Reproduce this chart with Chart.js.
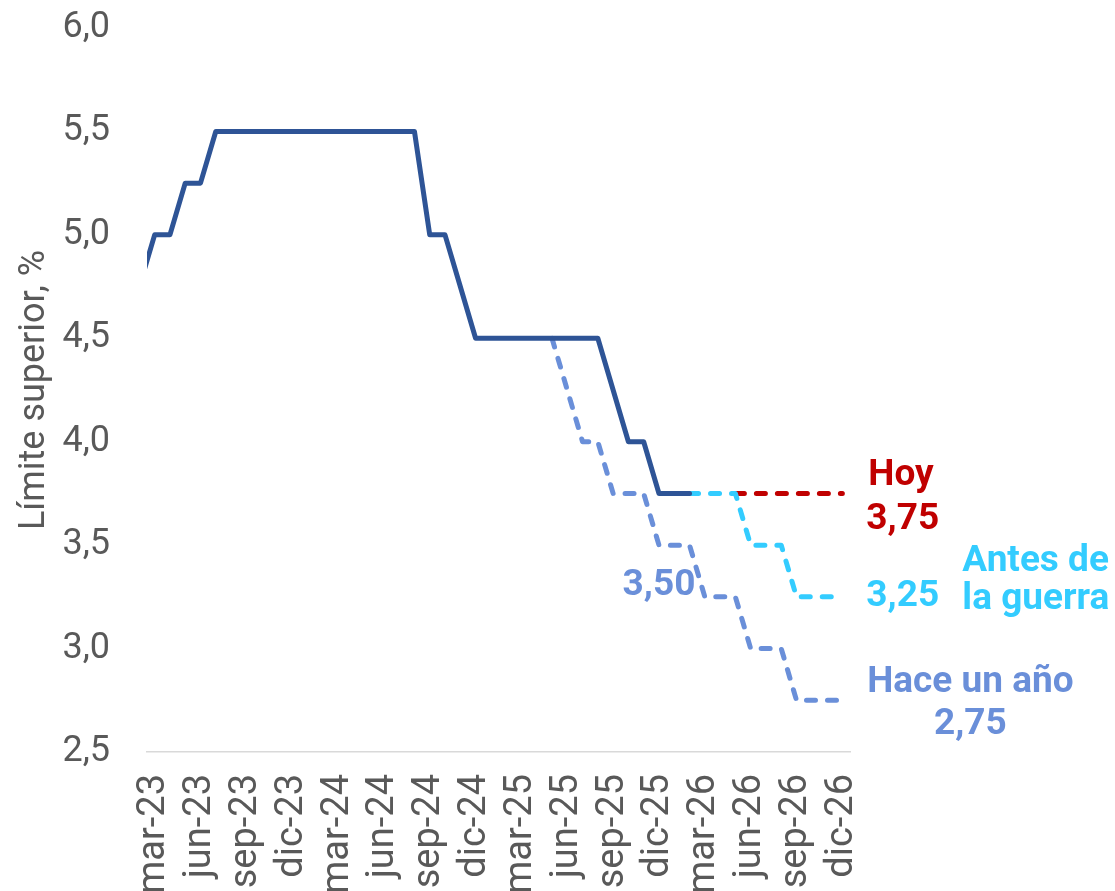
<!DOCTYPE html>
<html lang="es">
<head>
<meta charset="utf-8">
<title>Límite superior</title>
<script src="https://cdn.jsdelivr.net/npm/chart.js@4.4.1/dist/chart.umd.min.js"></script>
<style>
  html, body { margin: 0; padding: 0; background: #fff; overflow: hidden; }
  canvas { display: block; }
</style>
</head>
<body>
<canvas id="grafico" width="1115" height="891"></canvas>
<script>
// meses (el primero queda medio fuera del eje)
const meses = ['feb-23','mar-23','abr-23','may-23','jun-23','jul-23','ago-23','sep-23','oct-23','nov-23','dic-23',
  'ene-24','feb-24','mar-24','abr-24','may-24','jun-24','jul-24','ago-24','sep-24','oct-24','nov-24','dic-24',
  'ene-25','feb-25','mar-25','abr-25','may-25','jun-25','jul-25','ago-25','sep-25','oct-25','nov-25','dic-25',
  'ene-26','feb-26','mar-26','abr-26','may-26','jun-26','jul-26','ago-26','sep-26','oct-26','nov-26','dic-26'];

const etiquetasX = ['mar-23','jun-23','sep-23','dic-23','mar-24','jun-24','sep-24','dic-24',
  'mar-25','jun-25','sep-25','dic-25','mar-26','jun-26','sep-26','dic-26'];

const ticksY = [2.5, 3.0, 3.5, 4.0, 4.5, 5.0, 5.5, 6.0];

// tasa efectiva (límite superior)
const historico = [4.75, 5.00, 5.00, 5.25, 5.25, 5.50, 5.50, 5.50, 5.50, 5.50, 5.50,
  5.50, 5.50, 5.50, 5.50, 5.50, 5.50, 5.50, 5.50, 5.00, 5.00, 4.75, 4.50,
  4.50, 4.50, 4.50, 4.50, 4.50, 4.50, 4.50, 4.50, 4.25, 4.00, 4.00, 3.75,
  3.75, 3.75, null, null, null, null, null, null, null, null, null, null];

// expectativas
const hoy = [null, null, null, null, null, null, null, null, null, null, null,
  null, null, null, null, null, null, null, null, null, null, null, null,
  null, null, null, null, null, null, null, null, null, null, null, null,
  null, null, null, null, 3.75, 3.75, 3.75, 3.75, 3.75, 3.75, 3.75, 3.75];

const antesGuerra = [null, null, null, null, null, null, null, null, null, null, null,
  null, null, null, null, null, null, null, null, null, null, null, null,
  null, null, null, null, null, null, null, null, null, null, null, null,
  null, 3.75, 3.75, 3.75, 3.75, 3.50, 3.50, 3.50, 3.25, 3.25, 3.25, 3.25];

const haceUnAno = [null, null, null, null, null, null, null, null, null, null, null,
  null, null, null, null, null, null, null, null, null, null, null, null,
  null, null, null, null, 4.50, 4.25, 4.00, 4.00, 3.75, 3.75, 3.75, 3.50,
  3.50, 3.50, 3.25, 3.25, 3.25, 3.00, 3.00, 3.00, 2.75, 2.75, 2.75, 2.75];

const rojo = '#C00000';
const celeste = '#33CCFF';
const azulMedio = '#6A8FD9';
const azulOscuro = '#2E5496';

function puntos(serie) {
  const out = [];
  serie.forEach((v, i) => { if (v !== null) out.push({ x: i, y: v }); });
  return out;
}

function coma(v, dec) {
  return v.toFixed(dec).replace('.', ',');
}

// textos al final de las líneas
const etiquetas = {
  id: 'etiquetas',
  afterDatasetsDraw(chart) {
    const ctx = chart.ctx;
    const x = chart.scales.x;
    const y = chart.scales.y;
    const fin = x.getPixelForValue(meses.length - 1);
    ctx.save();
    ctx.font = 'bold 37px Roboto';
    ctx.textBaseline = 'alphabetic';
    ctx.textAlign = 'left';

    ctx.fillStyle = rojo;
    ctx.fillText('Hoy', fin + 26, y.getPixelForValue(3.75) - 8);
    ctx.fillText(coma(hoy[hoy.length - 1], 2), fin + 24, y.getPixelForValue(3.75) + 36);

    ctx.fillStyle = celeste;
    ctx.textBaseline = 'middle';
    ctx.fillText(coma(antesGuerra[antesGuerra.length - 1], 2), fin + 24, y.getPixelForValue(3.25));
    ctx.textBaseline = 'alphabetic';
    ctx.fillText('Antes de', fin + 120, y.getPixelForValue(3.25) - 26);
    ctx.fillText('la guerra', fin + 120, y.getPixelForValue(3.25) + 12);

    ctx.fillStyle = azulMedio;
    ctx.textAlign = 'center';
    ctx.fillText('Hace un año', fin + 128, y.getPixelForValue(2.75) - 8);
    ctx.fillText(coma(haceUnAno[haceUnAno.length - 1], 2), fin + 128, y.getPixelForValue(2.75) + 34);

    ctx.textBaseline = 'middle';
    ctx.fillText(coma(3.5, 2), x.getPixelForValue(meses.indexOf('dic-25')), y.getPixelForValue(3.5) + 41);
    ctx.restore();
  }
};

const lineaBase = { pointRadius: 0, pointHoverRadius: 0, fill: false, tension: 0, clip: 0,
  borderCapStyle: 'round', borderJoinStyle: 'round' };

new Chart(document.getElementById('grafico'), {
  type: 'line',
  data: {
    datasets: [
      Object.assign({ label: 'Límite superior', data: puntos(historico), borderColor: azulOscuro, borderWidth: 5 }, lineaBase),
      Object.assign({ label: 'Antes de la guerra', data: puntos(antesGuerra), borderColor: celeste, borderWidth: 5, borderDash: [9, 12] }, lineaBase),
      Object.assign({ label: 'Hoy', data: puntos(hoy), borderColor: rojo, borderWidth: 5, borderDash: [9, 12] }, lineaBase),
      Object.assign({ label: 'Hace un año', data: puntos(haceUnAno), borderColor: azulMedio, borderWidth: 5, borderDash: [9, 12] }, lineaBase)
    ]
  },
  options: {
    responsive: false,
    animation: false,
    events: [],
    layout: { padding: { top: 28, right: 265, left: 0, bottom: 0 } },
    plugins: { legend: { display: false }, tooltip: { enabled: false } },
    scales: {
      x: {
        type: 'linear',
        min: 0.5,
        max: meses.length - 0.5,
        afterBuildTicks: s => { s.ticks = etiquetasX.map(l => ({ value: meses.indexOf(l) })); },
        afterFit: s => { s.height = 139; s.paddingLeft = 0; s.paddingRight = 0; s.paddingTop = 0; s.paddingBottom = 0; },
        grid: { display: false, drawTicks: false },
        border: { display: true, color: '#D9D9D9', width: 1.5 },
        ticks: {
          autoSkip: false,
          minRotation: 90,
          maxRotation: 90,
          padding: 22,
          color: '#595959',
          font: { family: 'Roboto', size: 38 },
          callback: v => meses[v]
        }
      },
      y: {
        min: ticksY[0],
        max: ticksY[ticksY.length - 1],
        afterBuildTicks: s => { s.ticks = ticksY.map(v => ({ value: v })); },
        afterFit: s => { s.width = 147; s.paddingTop = 0; s.paddingBottom = 0; s.paddingLeft = 0; s.paddingRight = 0; },
        grid: { display: false, drawTicks: false },
        border: { display: false },
        ticks: {
          padding: 37,
          color: '#595959',
          font: { family: 'Roboto', size: 36 },
          callback: v => coma(v, 1)
        },
        title: {
          display: true,
          text: 'Límite superior, %',
          color: '#595959',
          font: { family: 'Roboto', size: 36 },
          padding: { top: 13, bottom: 0 }
        }
      }
    }
  },
  plugins: [etiquetas]
});
</script>
</body>
</html>
